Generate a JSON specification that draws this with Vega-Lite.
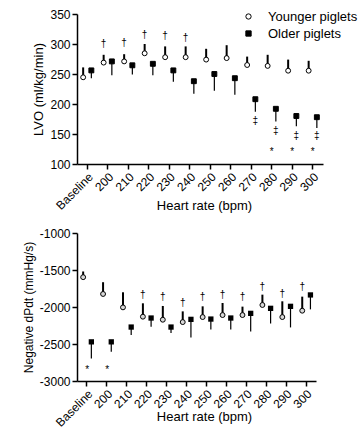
{
  "$schema": "https://vega.github.io/schema/vega-lite/v6.json",
  "padding": {"left": 22, "top": 8, "right": 0, "bottom": 0},
  "spacing": 15,
  "config": {
    "font": "Liberation Sans",
    "view": {"stroke": null},
    "axis": {"domainColor": "black", "domainWidth": 1.5, "tickColor": "black", "tickWidth": 1.5, "tickSize": 5, "labelColor": "black", "labelFontSize": 12, "titleFontSize": 13, "titleFontWeight": "normal", "titleColor": "black", "grid": false, "labelFont": "Liberation Sans", "titleFont": "Liberation Sans"},
    "legend": {"labelFontSize": 13, "labelColor": "black", "labelFont": "Liberation Sans", "labelOffset": 13, "rowPadding": 3, "symbolSize": 28, "symbolStrokeWidth": 1}
  },
  "datasets": {
    "lvo": [
      {"hr": "Baseline", "group": "Younger piglets", "mean": 244.5, "err": 261},
      {"hr": "Baseline", "group": "Older piglets", "mean": 256, "err": 243},
      {"hr": "200", "group": "Younger piglets", "mean": 269, "err": 282},
      {"hr": "200", "group": "Older piglets", "mean": 271, "err": 248},
      {"hr": "210", "group": "Younger piglets", "mean": 271, "err": 283},
      {"hr": "210", "group": "Older piglets", "mean": 264.5, "err": 249},
      {"hr": "220", "group": "Younger piglets", "mean": 284.5, "err": 300},
      {"hr": "220", "group": "Older piglets", "mean": 267, "err": 248},
      {"hr": "230", "group": "Younger piglets", "mean": 278, "err": 296},
      {"hr": "230", "group": "Older piglets", "mean": 256, "err": 237},
      {"hr": "240", "group": "Younger piglets", "mean": 278, "err": 296},
      {"hr": "240", "group": "Older piglets", "mean": 238, "err": 217},
      {"hr": "250", "group": "Younger piglets", "mean": 274, "err": 292},
      {"hr": "250", "group": "Older piglets", "mean": 250, "err": 222},
      {"hr": "260", "group": "Younger piglets", "mean": 276.5, "err": 298},
      {"hr": "260", "group": "Older piglets", "mean": 243, "err": 215.5},
      {"hr": "270", "group": "Younger piglets", "mean": 265, "err": 279},
      {"hr": "270", "group": "Older piglets", "mean": 208, "err": 187},
      {"hr": "280", "group": "Younger piglets", "mean": 263.5, "err": 282},
      {"hr": "280", "group": "Older piglets", "mean": 192, "err": 171},
      {"hr": "290", "group": "Younger piglets", "mean": 255.5, "err": 274},
      {"hr": "290", "group": "Older piglets", "mean": 180, "err": 163},
      {"hr": "300", "group": "Younger piglets", "mean": 255.5, "err": 272},
      {"hr": "300", "group": "Older piglets", "mean": 178, "err": 160}
    ],
    "lvoNotes": [
      {"hr": "200", "group": "Younger piglets", "y": 300, "label": "†"},
      {"hr": "210", "group": "Younger piglets", "y": 302.5, "label": "†"},
      {"hr": "220", "group": "Younger piglets", "y": 315.5, "label": "†"},
      {"hr": "230", "group": "Younger piglets", "y": 313, "label": "†"},
      {"hr": "240", "group": "Younger piglets", "y": 310, "label": "†"},
      {"hr": "270", "group": "Older piglets", "y": 171, "label": "‡"},
      {"hr": "280", "group": "Older piglets", "y": 155.5, "label": "‡"},
      {"hr": "290", "group": "Older piglets", "y": 147, "label": "‡"},
      {"hr": "300", "group": "Older piglets", "y": 146, "label": "‡"},
      {"hr": "280", "group": "center", "y": 120, "label": "*"},
      {"hr": "290", "group": "center", "y": 120, "label": "*"},
      {"hr": "300", "group": "center", "y": 120, "label": "*"}
    ],
    "dpdt": [
      {"hr": "Baseline", "group": "Younger piglets", "mean": -1597, "err": -1520},
      {"hr": "Baseline", "group": "Older piglets", "mean": -2471, "err": -2697},
      {"hr": "200", "group": "Younger piglets", "mean": -1824, "err": -1665},
      {"hr": "200", "group": "Older piglets", "mean": -2471, "err": -2606},
      {"hr": "210", "group": "Younger piglets", "mean": -2005, "err": -1801},
      {"hr": "210", "group": "Older piglets", "mean": -2271, "err": -2380},
      {"hr": "220", "group": "Younger piglets", "mean": -2131, "err": -1950},
      {"hr": "220", "group": "Older piglets", "mean": -2149, "err": -2267},
      {"hr": "230", "group": "Younger piglets", "mean": -2172, "err": -1986},
      {"hr": "230", "group": "Older piglets", "mean": -2271, "err": -2353},
      {"hr": "240", "group": "Younger piglets", "mean": -2204, "err": -2059},
      {"hr": "240", "group": "Older piglets", "mean": -2167, "err": -2412},
      {"hr": "250", "group": "Younger piglets", "mean": -2136, "err": -1991},
      {"hr": "250", "group": "Older piglets", "mean": -2163, "err": -2303},
      {"hr": "260", "group": "Younger piglets", "mean": -2109, "err": -1946},
      {"hr": "260", "group": "Older piglets", "mean": -2149, "err": -2303},
      {"hr": "270", "group": "Younger piglets", "mean": -2109, "err": -1995},
      {"hr": "270", "group": "Older piglets", "mean": -2086, "err": -2330},
      {"hr": "280", "group": "Younger piglets", "mean": -1973, "err": -1833},
      {"hr": "280", "group": "Older piglets", "mean": -2018, "err": -2222},
      {"hr": "290", "group": "Younger piglets", "mean": -2136, "err": -1923},
      {"hr": "290", "group": "Older piglets", "mean": -1991, "err": -2276},
      {"hr": "300", "group": "Younger piglets", "mean": -2050, "err": -1860},
      {"hr": "300", "group": "Older piglets", "mean": -1837, "err": -2032}
    ],
    "dpdtNotes": [
      {"hr": "Baseline", "group": "center", "y": -2851, "label": "*"},
      {"hr": "200", "group": "center", "y": -2851, "label": "*"},
      {"hr": "220", "group": "Younger piglets", "y": -1837, "label": "†"},
      {"hr": "230", "group": "Younger piglets", "y": -1869, "label": "†"},
      {"hr": "240", "group": "Younger piglets", "y": -1946, "label": "†"},
      {"hr": "250", "group": "Younger piglets", "y": -1869, "label": "†"},
      {"hr": "260", "group": "Younger piglets", "y": -1833, "label": "†"},
      {"hr": "270", "group": "Younger piglets", "y": -1869, "label": "†"},
      {"hr": "280", "group": "Younger piglets", "y": -1724, "label": "†"},
      {"hr": "290", "group": "Younger piglets", "y": -1824, "label": "†"},
      {"hr": "300", "group": "Younger piglets", "y": -1733, "label": "†"}
    ]
  },
  "vconcat": [
    {
      "width": 246,
      "height": 150,
      "encoding": {
        "x": {"field": "hr", "type": "nominal", "scale": {"domain": ["Baseline", "200", "210", "220", "230", "240", "250", "260", "270", "280", "290", "300"], "paddingInner": 0, "paddingOuter": 0}, "axis": {"labelAngle": -45, "title": "Heart rate (bpm)", "titleY": 35, "titleX": 127}},
        "xOffset": {"field": "group", "type": "nominal", "scale": {"domain": ["Younger piglets", "center", "Older piglets"], "paddingInner": 0, "paddingOuter": 1}},
        "y": {"field": "mean", "type": "quantitative", "scale": {"domain": [100, 350], "nice": false}, "axis": {"values": [100, 150, 200, 250, 300, 350], "title": "LVO (ml/kg/min)"}}
      },
      "layer": [
        {
          "data": {"name": "lvo"},
          "transform": [{"filter": "datum.group === 'Younger piglets'"}],
          "mark": {"type": "rule", "color": "black", "strokeWidth": 2},
          "encoding": {"y2": {"field": "err"}}
        },
        {
          "data": {"name": "lvo"},
          "transform": [{"filter": "datum.group === 'Older piglets'"}],
          "mark": {"type": "rule", "color": "black", "strokeWidth": 1.2},
          "encoding": {"y2": {"field": "err"}}
        },
        {
          "data": {"name": "lvo"},
          "mark": {"type": "point", "filled": true, "size": 24, "strokeWidth": 1, "opacity": 1},
          "encoding": {
            "shape": {"field": "group", "type": "nominal", "scale": {"domain": ["Younger piglets", "Older piglets"], "range": ["circle", "square"]}, "legend": {"title": null, "orient": "none", "legendX": 165, "legendY": -4}},
            "fill": {"field": "group", "type": "nominal", "scale": {"domain": ["Younger piglets", "Older piglets"], "range": ["white", "black"]}, "legend": {"title": null, "orient": "none", "legendX": 165, "legendY": -4}},
            "stroke": {"field": "group", "type": "nominal", "scale": {"domain": ["Younger piglets", "Older piglets"], "range": ["black", "black"]}, "legend": {"title": null, "orient": "none", "legendX": 165, "legendY": -4}}
          }
        },
        {
          "data": {"name": "lvoNotes"},
          "mark": {"type": "text", "fontSize": 10, "fill": "black", "baseline": "middle"},
          "encoding": {
            "y": {"field": "y", "type": "quantitative", "axis": {"values": [100, 150, 200, 250, 300, 350], "title": "LVO (ml/kg/min)"}},
            "text": {"field": "label"}
          }
        }
      ]
    },
    {
      "width": 239,
      "height": 148,
      "encoding": {
        "x": {"field": "hr", "type": "nominal", "scale": {"domain": ["Baseline", "200", "210", "220", "230", "240", "250", "260", "270", "280", "290", "300"], "paddingInner": 0, "paddingOuter": 0}, "axis": {"labelAngle": -45, "title": "Heart rate (bpm)", "titleY": 29, "titleX": 127}},
        "xOffset": {"field": "group", "type": "nominal", "scale": {"domain": ["Younger piglets", "center", "Older piglets"], "paddingInner": 0, "paddingOuter": 1}},
        "y": {"field": "mean", "type": "quantitative", "scale": {"domain": [-3000, -1000], "nice": false}, "axis": {"values": [-3000, -2500, -2000, -1500, -1000], "labelExpr": "datum.value + ''", "title": "Negative dPdt (mmHg/s)", "titleFontSize": 12}}
      },
      "layer": [
        {
          "data": {"name": "dpdt"},
          "transform": [{"filter": "datum.group === 'Younger piglets'"}],
          "mark": {"type": "rule", "color": "black", "strokeWidth": 2},
          "encoding": {"y2": {"field": "err"}}
        },
        {
          "data": {"name": "dpdt"},
          "transform": [{"filter": "datum.group === 'Older piglets'"}],
          "mark": {"type": "rule", "color": "black", "strokeWidth": 1.2},
          "encoding": {"y2": {"field": "err"}}
        },
        {
          "data": {"name": "dpdt"},
          "transform": [{"filter": "datum.group === 'Younger piglets'"}],
          "mark": {"type": "point", "shape": "circle", "filled": true, "fill": "#d8d8d8", "stroke": "black", "size": 24, "strokeWidth": 1, "opacity": 1},
          "encoding": {}
        },
        {
          "data": {"name": "dpdt"},
          "transform": [{"filter": "datum.group === 'Older piglets'"}],
          "mark": {"type": "point", "shape": "square", "filled": true, "fill": "black", "size": 28, "opacity": 1},
          "encoding": {}
        },
        {
          "data": {"name": "dpdtNotes"},
          "mark": {"type": "text", "fontSize": 10, "fill": "black", "baseline": "middle"},
          "encoding": {
            "y": {"field": "y", "type": "quantitative", "axis": {"values": [-3000, -2500, -2000, -1500, -1000], "labelExpr": "datum.value + ''", "title": "Negative dPdt (mmHg/s)", "titleFontSize": 12}},
            "text": {"field": "label"}
          }
        }
      ]
    }
  ]
}
